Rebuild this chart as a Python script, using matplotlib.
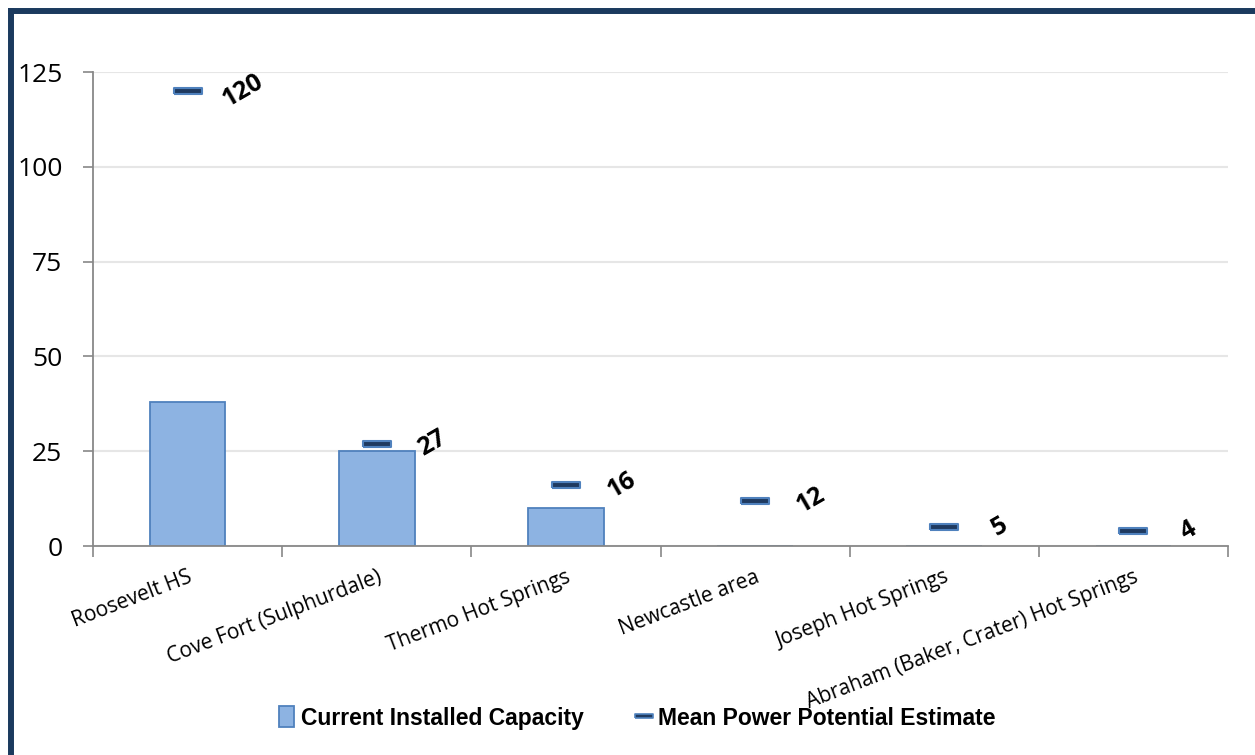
import numpy as np
import matplotlib.pyplot as plt
from matplotlib.lines import Line2D
from matplotlib.patches import Patch

sites = ["Roosevelt HS", "Cove Fort (Sulphurdale)", "Thermo Hot Springs",
         "Newcastle area", "Joseph Hot Springs",
         "Abraham (Baker, Crater) Hot Springs"]
installed = [38, 25, 10, 0, 0, 0]
potential = [120, 27, 16, 12, 5, 4]
yticks = [0, 25, 50, 75, 100, 125]

bar_face = "#8DB3E2"
bar_edge = "#4F81BD"
dash_face = "#1F3A60"
frame_col = "#1B3A5E"

plt.rcParams["font.family"] = ["Open Sans", "DejaVu Sans"]

fig = plt.figure(figsize=(12.55, 7.55), dpi=100)
ax = fig.add_axes([0.0741, 0.2768, 0.9044, 0.6278])

x = np.arange(len(sites))
ax.bar(x, installed, width=0.4, color=bar_face, edgecolor=bar_edge, linewidth=1.3, zorder=2)

# short horizontal dash for each potential estimate
dash = [(-1, -0.24), (1, -0.24), (1, 0.24), (-1, 0.24), (-1, -0.24)]
ax.plot(x, potential, linestyle="none", marker=dash, markersize=20,
        markerfacecolor=dash_face, markeredgecolor=bar_edge, markeredgewidth=1.5, zorder=3)

for xi, v in zip(x, potential):
    ax.annotate(str(v), (xi, v), xytext=(40, 0), textcoords="offset points",
                rotation=30, rotation_mode="anchor", ha="center", va="center",
                fontsize=18, fontweight="bold", color="black")

ax.set_xlim(-0.5, len(sites) - 0.5)
ax.set_ylim(0, 125)
ax.set_yticks(yticks)
ax.tick_params(axis="y", labelsize=19, length=7, width=1.2, color="#888888", pad=15,
               direction="out")
ax.grid(axis="y", color="#E6E6E6", linewidth=1.5, zorder=0)
ax.set_axisbelow(True)

ax.set_xticks(x)
ax.set_xticklabels(sites, rotation=21, ha="right", rotation_mode="anchor", fontsize=15)
ax.tick_params(axis="x", which="major", length=0, pad=15)
ax.set_xticks(np.arange(-0.5, len(sites), 1), minor=True)
ax.tick_params(axis="x", which="minor", length=8, width=1.2, color="#888888", direction="out")

for s in ["top", "right"]:
    ax.spines[s].set_visible(False)
for s in ["left", "bottom"]:
    ax.spines[s].set_color("#888888")
    ax.spines[s].set_linewidth(1.3)

handles = [
    Patch(facecolor=bar_face, edgecolor=bar_edge, linewidth=1.3),
    Line2D([], [], linestyle="none", marker=dash, markersize=13,
           markerfacecolor=dash_face, markeredgecolor=bar_edge, markeredgewidth=1.2),
]
fig.legend(handles, ["Current Installed Capacity", "Mean Power Potential Estimate"],
           loc="center", bbox_to_anchor=(0.508, 0.049), ncol=2, frameon=False,
           handlelength=0.65, handleheight=1.0, handletextpad=0.3, columnspacing=2.3,
           prop={"family": "Liberation Sans", "weight": "bold", "size": 16.5})

# dark frame along the left and top edges
fig.add_artist(Line2D([10.5 / 1255, 10.5 / 1255], [0, 1 - 10.5 / 755],
                      transform=fig.transFigure, color=frame_col, linewidth=4.3,
                      solid_capstyle="projecting"))
fig.add_artist(Line2D([10.5 / 1255, 1], [1 - 10.5 / 755, 1 - 10.5 / 755],
                      transform=fig.transFigure, color=frame_col, linewidth=4.3,
                      solid_capstyle="projecting"))

fig.savefig("out.png", dpi=100)
